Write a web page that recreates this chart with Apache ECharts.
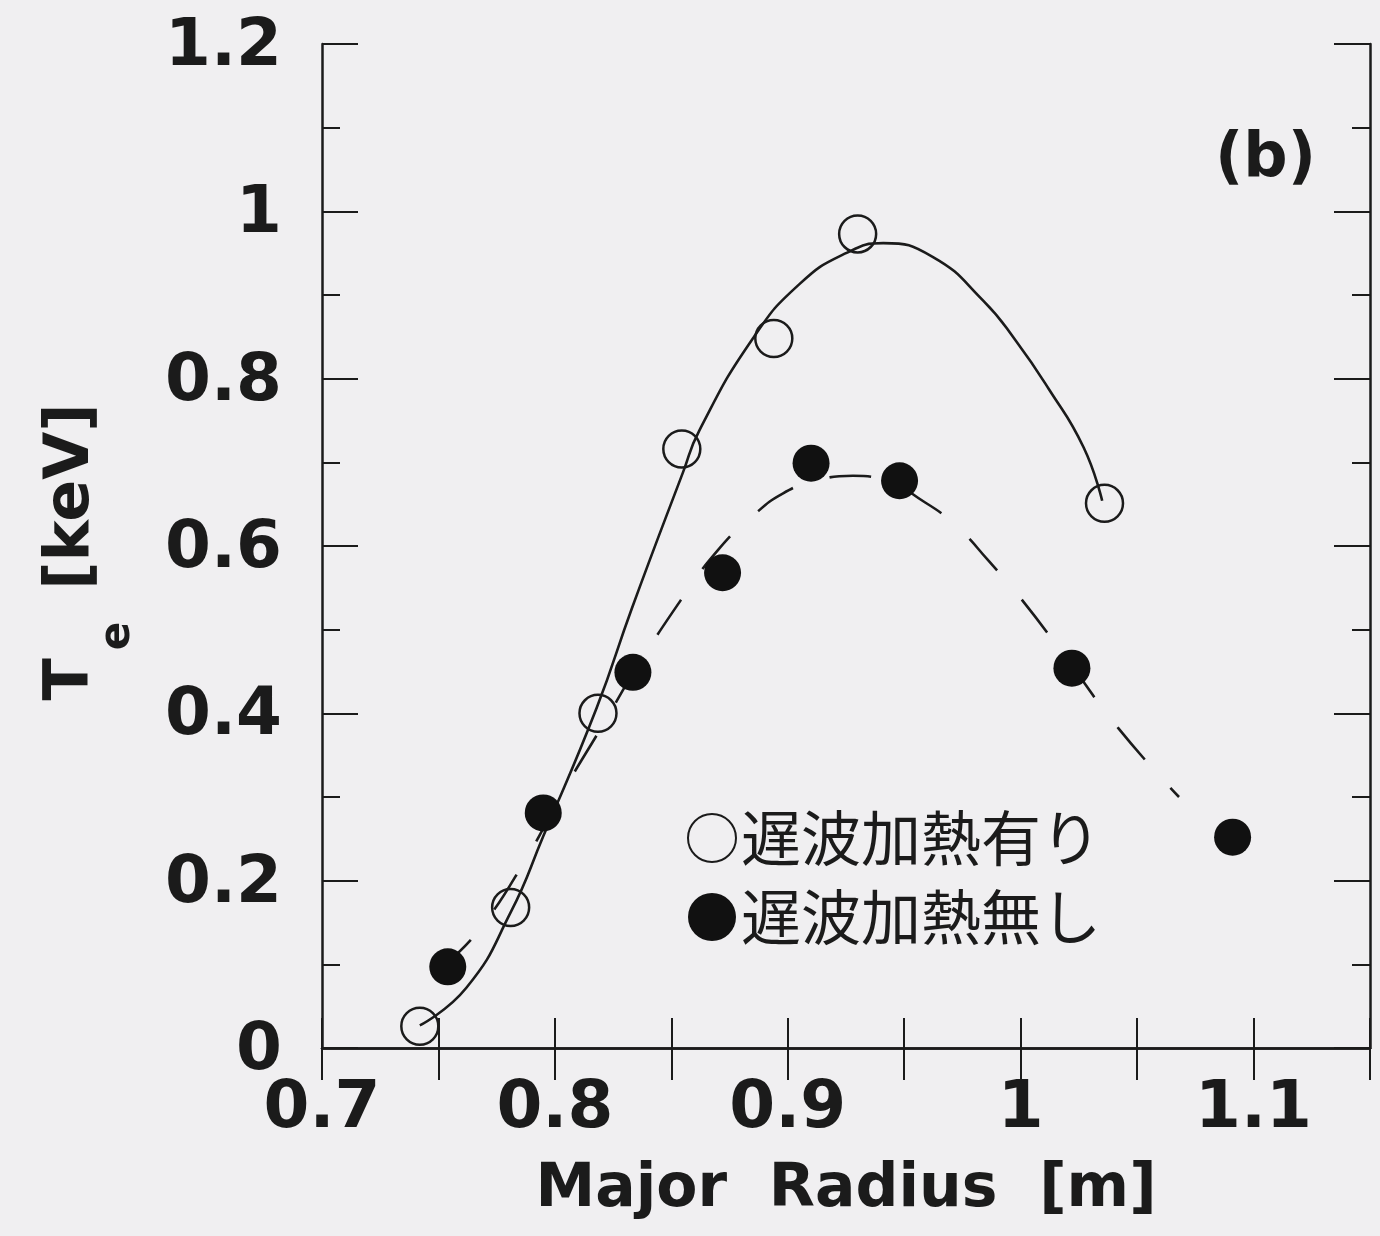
<!DOCTYPE html>
<html>
<head>
<meta charset="utf-8">
<script src="https://cdn.jsdelivr.net/npm/echarts@6/dist/echarts.min.js"></script>
<style>
  html, body { margin: 0; padding: 0; background: #f0eff1; }
  #chart { width: 1380px; height: 1236px; }
</style>
</head>
<body>
<div id="chart"></div>
<script>
// Electron temperature profiles vs. major radius
const seriesNames = ['遅波加熱有り', '遅波加熱無し'];

// measured points, with slow-wave heating (open circles)
const radiusHeated = [0.742, 0.781, 0.8185, 0.8545, 0.894, 0.930, 1.036];
const teHeated     = [0.026, 0.168, 0.400, 0.716, 0.848, 0.973, 0.651];

// measured points, without slow-wave heating (filled circles)
const radiusOhmic = [0.754, 0.795, 0.8335, 0.872, 0.910, 0.948, 1.022, 1.091];
const teOhmic     = [0.097, 0.281, 0.449, 0.568, 0.699, 0.678, 0.454, 0.252];

// hand-drawn guide curves through each data set
const fitHeatedR  = [0.742, 0.762, 0.781, 0.795, 0.818, 0.833, 0.855, 0.862, 0.885, 0.905, 0.925, 0.941, 0.962, 0.984, 0.998, 1.012, 1.027, 1.035];
const fitHeatedTe = [0.027, 0.072, 0.162, 0.253, 0.407, 0.525, 0.688, 0.738, 0.848, 0.913, 0.950, 0.962, 0.946, 0.893, 0.845, 0.788, 0.718, 0.654];
const fitOhmicR   = [0.754, 0.768, 0.788, 0.803, 0.821, 0.833, 0.854, 0.870, 0.885, 0.898, 0.912, 0.928, 0.939, 0.959, 0.973, 0.986, 0.999, 1.018, 1.042, 1.068];
const fitOhmicTe  = [0.103, 0.143, 0.228, 0.304, 0.388, 0.445, 0.535, 0.595, 0.636, 0.663, 0.678, 0.684, 0.681, 0.652, 0.622, 0.583, 0.541, 0.472, 0.382, 0.300];

// axis tick labels
const xTickLabels = ['0.7', '0.8', '0.9', '1', '1.1'];
const yTickLabels = ['0', '0.2', '0.4', '0.6', '0.8', '1', '1.2'];

const X_MIN = 0.7, X_MAX = 1.15, X_STEP = 0.1;
const Y_MIN = 0, Y_MAX = 1.2, Y_STEP = 0.2;

const INK = '#1b1b1b';
const BG = '#f0eff1';
const LATIN = '"DejaVu Sans", sans-serif';
const CJK = '"Noto Sans CJK JP", sans-serif';

const pairs = (xs, ys) => xs.map((x, i) => [x, ys[i]]);
const tickText = (labels, min, step) => v => {
  const i = Math.round((v - min) / step);
  return Math.abs(min + i * step - v) < 1e-6 && labels[i] !== undefined ? labels[i] : '';
};

const frameLine = { show: true, lineStyle: { color: INK, width: 2.5 } };

const chart = echarts.init(document.getElementById('chart'), null, { renderer: 'canvas' });

chart.setOption({
  backgroundColor: BG,
  animation: false,
  title: {
    text: '(b)',
    left: 1210,
    top: 124,
    textStyle: { fontFamily: LATIN, fontWeight: 'bold', fontSize: 62, color: INK }
  },
  legend: {
    data: seriesNames,
    orient: 'vertical',
    left: 682,
    top: 803,
    itemWidth: 48,
    itemHeight: 48,
    itemGap: 19,
    textStyle: { fontFamily: CJK, fontSize: 60, color: INK, padding: [0, 0, 0, 0] }
  },
  grid: { left: 322, right: 10, top: 44, bottom: 188, containLabel: false },
  xAxis: [
    {
      type: 'value', position: 'bottom', min: X_MIN, max: X_MAX, interval: X_STEP,
      axisLine: frameLine,
      axisTick: { show: true, inside: true, length: 30, lineStyle: { color: INK, width: 2 } },
      minorTick: { show: true, splitNumber: 2, length: 30, lineStyle: { color: INK, width: 2 } },
      splitLine: { show: false },
      axisLabel: {
        margin: 29, fontFamily: LATIN, fontWeight: 'bold', fontSize: 66, color: INK,
        showMaxLabel: false,
        formatter: tickText(xTickLabels, X_MIN, X_STEP)
      },
      name: 'Major  Radius  [m]',
      nameLocation: 'middle',
      nameGap: 112,
      nameTextStyle: { fontFamily: LATIN, fontWeight: 'bold', fontSize: 60, color: INK }
    },
    {
      type: 'value', position: 'top', min: X_MIN, max: X_MAX, interval: X_STEP,
      axisLine: frameLine,
      axisTick: { show: true, inside: true, length: 32, lineStyle: { color: INK, width: 2 } },
      minorTick: { show: true, splitNumber: 2, length: 32, lineStyle: { color: INK, width: 2 } },
      splitLine: { show: false },
      axisLabel: { show: false }
    }
  ],
  yAxis: [
    {
      type: 'value', position: 'left', min: Y_MIN, max: Y_MAX, interval: Y_STEP,
      axisLine: frameLine,
      axisTick: { show: true, inside: true, length: 36, lineStyle: { color: INK, width: 2 } },
      minorTick: { show: true, splitNumber: 2, length: 18, lineStyle: { color: INK, width: 2 } },
      splitLine: { show: false },
      axisLabel: {
        margin: 40, fontFamily: LATIN, fontWeight: 'bold', fontSize: 66, color: INK,
        verticalAlign: 'top', lineHeight: 8,
        formatter: tickText(yTickLabels, Y_MIN, Y_STEP)
      },
      name: '{t|T}{s|e}{t|[keV]}',
      nameLocation: 'middle',
      nameRotate: 90,
      nameGap: 183,
      nameTextStyle: {
        color: INK,
        padding: [0, 12, 0, 0],
        rich: {
          t: { fontFamily: LATIN, fontWeight: 'bold', fontSize: 62, color: INK },
          s: { fontFamily: LATIN, fontWeight: 'bold', fontSize: 42, color: INK, padding: [92, 32, 0, 8] }
        }
      }
    },
    {
      type: 'value', position: 'right', min: Y_MIN, max: Y_MAX, interval: Y_STEP,
      axisLine: frameLine,
      axisTick: { show: true, inside: true, length: 36, lineStyle: { color: INK, width: 2 } },
      minorTick: { show: true, splitNumber: 2, length: 18, lineStyle: { color: INK, width: 2 } },
      splitLine: { show: false },
      axisLabel: { show: false }
    }
  ],
  series: [
    {
      name: 'fit-heated',
      type: 'line',
      data: pairs(fitHeatedR, fitHeatedTe),
      smooth: 0.5,
      showSymbol: false,
      symbol: 'none',
      lineStyle: { color: INK, width: 2.6 },
      z: 2,
      silent: true
    },
    {
      name: 'fit-ohmic',
      type: 'line',
      data: pairs(fitOhmicR, fitOhmicTe),
      smooth: 0.5,
      showSymbol: false,
      symbol: 'none',
      lineStyle: { color: INK, width: 2.6, type: [42, 38], dashOffset: 10 },
      z: 2,
      silent: true
    },
    {
      name: seriesNames[0],
      type: 'scatter',
      data: pairs(radiusHeated, teHeated),
      symbol: 'circle',
      symbolSize: 37,
      itemStyle: { color: 'rgba(0,0,0,0)', borderColor: INK, borderWidth: 2.5, opacity: 1 },
      z: 3
    },
    {
      name: seriesNames[1],
      type: 'scatter',
      data: pairs(radiusOhmic, teOhmic),
      symbol: 'circle',
      symbolSize: 37,
      itemStyle: { color: '#111111', borderWidth: 0, opacity: 1 },
      z: 4
    }
  ]
});
</script>
</body>
</html>
